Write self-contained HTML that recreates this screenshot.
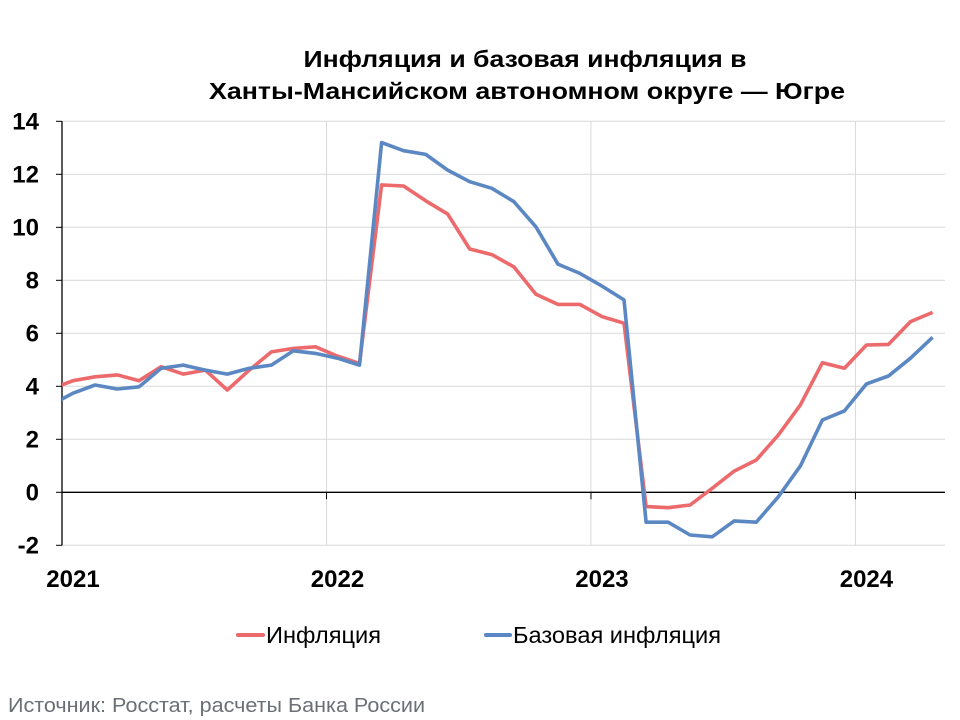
<!DOCTYPE html>
<html><head><meta charset="utf-8"><style>
html,body{margin:0;padding:0;background:#fff;}
svg{display:block;font-family:"Liberation Sans","Noto Sans CJK SC",sans-serif;}
</style></head><body>
<svg id="chart" width="960" height="720" viewBox="0 0 960 720">
<g font-weight="bold" font-size="23" text-anchor="middle" fill="#000">
<text x="525" y="67" textLength="443" lengthAdjust="spacingAndGlyphs">Инфляция и базовая инфляция в</text>
<text x="527" y="99" textLength="636" lengthAdjust="spacingAndGlyphs">Ханты-Мансийском автономном округе — Югре</text>
</g>
<g id="grid"></g>
<g id="axes"></g>
<g id="series"></g>
<g>
<g>
<line x1="238" y1="635" x2="263" y2="635" stroke="#ed6a6c" stroke-width="4" stroke-linecap="round"/>
<text x="266" y="643" font-size="23" textLength="115" lengthAdjust="spacingAndGlyphs">Инфляция</text>
</g>
<g>
<line x1="486" y1="635" x2="510" y2="635" stroke="#5b88c3" stroke-width="4" stroke-linecap="round"/>
<text x="513" y="643" font-size="23" textLength="208" lengthAdjust="spacingAndGlyphs">Базовая инфляция</text>
</g>
</g>
<text x="8" y="712" font-size="20" fill="#6b6f76" textLength="417" lengthAdjust="spacingAndGlyphs">Источник: Росстат, расчеты Банка России</text>
</svg>
<script>
// Months from Dec 2020 to Apr 2024
const inflation = [3.9,4.21,4.36,4.43,4.21,4.74,4.46,4.61,3.86,4.61,5.30,5.43,5.49,
 5.14,4.86,11.6,11.56,11.0,10.5,9.18,8.97,8.51,7.47,7.09,7.09,
 6.63,6.38,-0.54,-0.58,-0.48,0.15,0.80,1.22,2.16,3.29,4.89,4.68,
 5.56,5.58,6.44,6.79];
const coreInflation = [3.3,3.74,4.05,3.90,3.98,4.68,4.80,4.61,4.46,4.68,4.80,5.34,5.24,
 5.06,4.80,13.2,12.89,12.75,12.16,11.72,11.47,10.97,10.02,8.61,8.26,
 7.78,7.26,-1.13,-1.13,-1.61,-1.68,-1.08,-1.13,-0.17,0.99,2.73,3.07,
 4.09,4.39,5.06,5.85];
const yTicks = [-2,0,2,4,6,8,10,12,14];
const years = ["2021","2022","2023","2024"];

const NS="http://www.w3.org/2000/svg";
const X0=62, X1=945, MONTH=22.04;
function xIdx(i){ return X0 + MONTH*(i-1) + MONTH/2; } // index 0 = Dec 2020
function yVal(v){ return 492.3 - 26.5*v; }
function mk(tag,attrs,parent){const e=document.createElementNS(NS,tag);for(const k in attrs)e.setAttribute(k,attrs[k]);parent.appendChild(e);return e;}

const grid=document.getElementById('grid'), axes=document.getElementById('axes'), series=document.getElementById('series');
yTicks.forEach(t=>{
  if(t!==0){
    const g=mk('line',{x1:X0,x2:X1,y1:yVal(t),y2:yVal(t),stroke:'#d9d9d9','stroke-width':1},grid);
    
    
  }
  mk('line',{x1:X0-6,x2:X0,y1:yVal(t),y2:yVal(t),stroke:'#000','stroke-width':1},axes);
  const lb=mk('text',{x:39,y:yVal(t)+8,'text-anchor':'end','font-size':24,'font-weight':'bold'},axes);
  lb.textContent=String(t);
  
  
});
years.forEach((yr,k)=>{
  const gx=X0+MONTH*12*k;
  if(k>0){
    const g=mk('line',{x1:gx,x2:gx,y1:yVal(14),y2:yVal(-2),stroke:'#d9d9d9','stroke-width':1},grid);
    
    
    mk('line',{x1:gx,x2:gx,y1:yVal(0),y2:yVal(0)+7,stroke:'#000','stroke-width':1},axes);
  }
  const lb=mk('text',{x:gx+11,y:587,'text-anchor':'middle','font-size':24,'font-weight':'bold'},axes);
  lb.textContent=yr;
  
  
});
const ya=mk('line',{x1:X0,x2:X0,y1:yVal(14),y2:yVal(-2),stroke:'#000','stroke-width':1.3},axes);


const xa=mk('line',{x1:X0,x2:X1,y1:yVal(0),y2:yVal(0),stroke:'#000','stroke-width':1.3},axes);



const defs=mk('defs',{},series);
const cp=mk('clipPath',{id:'plotclip'},defs);
mk('rect',{x:X0,y:100,width:X1-X0,height:460},cp);
function drawLine(vals,color,name){
  const pts=vals.map((v,i)=>xIdx(i).toFixed(1)+','+yVal(v).toFixed(1)).join(' ');
  const p=mk('polyline',{points:pts,fill:'none',stroke:color,'stroke-width':3.6,'stroke-linejoin':'round','clip-path':'url(#plotclip)'},series);
  
  
}
drawLine(inflation,'#ed6a6c','inflation-line');
drawLine(coreInflation,'#5b88c3','core-inflation-line');
</script>
</body></html>
